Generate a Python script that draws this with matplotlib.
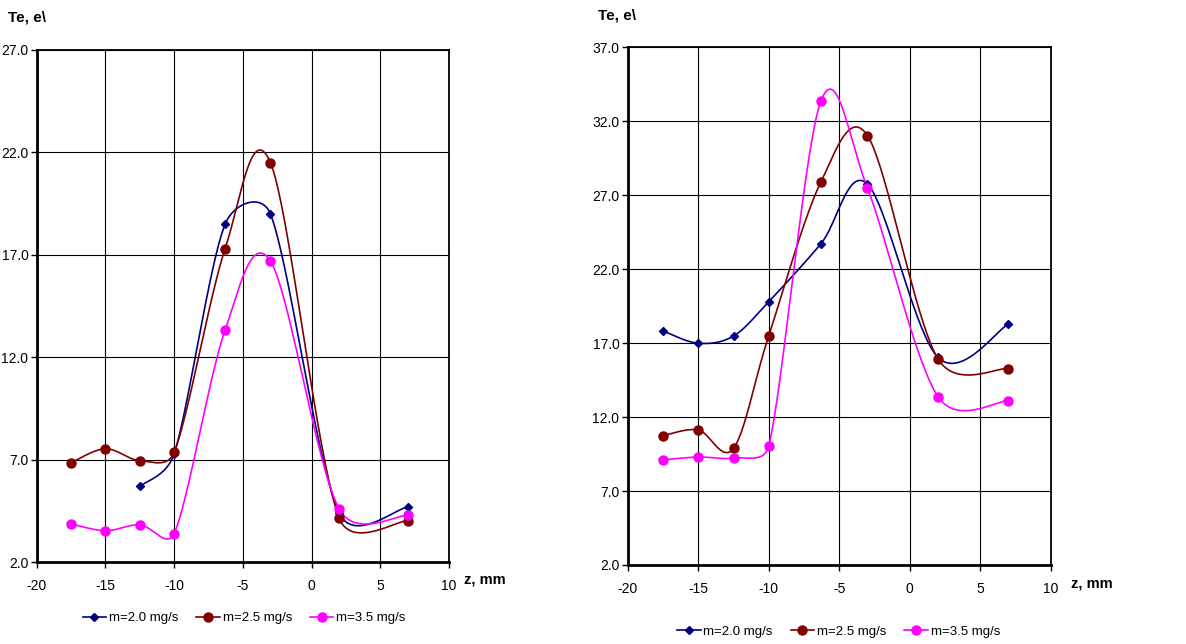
import numpy as np
import matplotlib
matplotlib.use("Agg")
import matplotlib.pyplot as plt
from matplotlib.lines import Line2D

plt.rcParams["font.family"] = ["Liberation Sans", "DejaVu Sans"]
plt.rcParams["axes.unicode_minus"] = False

# probe positions, mm
z = [-17.5, -15.0, -12.5, -10.0, -6.3, -3.0, 2.0, 7.0]

# left chart: Te, eV
te_a_20 = [None, None, 5.7, 7.3, 18.5, 19.0, 4.4, 4.7]
te_a_25 = [6.86, 7.54, 6.96, 7.37, 17.3, 21.5, 4.16, 4.03]
te_a_35 = [3.87, 3.54, 3.83, 3.4, 13.33, 16.7, 4.6, 4.29]

# right chart: Te, eV
te_b_20 = [17.82, 16.99, 17.48, 19.8, 23.72, 27.75, 16.04, 18.29]
te_b_25 = [10.74, 11.13, 9.89, 17.5, 27.9, 31.03, 15.93, 15.28]
te_b_35 = [9.1, 9.3, 9.23, 10.05, 33.37, 27.47, 13.38, 13.11]

labels = ["m=2.0 mg/s", "m=2.5 mg/s", "m=3.5 mg/s"]
colors = ["#000080", "#800000", "#FF00FF"]
markers = ["D", "o", "o"]
msizes = [4.5, 6.5, 6.5]


def smooth(ax, x, y, n=40):
    # bezier through the points, control arms capped at half a segment
    p = ax.transData.transform(np.column_stack([x, y]))
    ext = np.vstack([p[0], p, p[-1]])
    out = []
    t = np.linspace(0, 1, n)[:, None]
    for i in range(len(p) - 1):
        p0, p1, p2, p3 = ext[i], ext[i + 1], ext[i + 2], ext[i + 3]
        d12 = np.hypot(*(p2 - p1))
        d02 = np.hypot(*(p2 - p0))
        d13 = np.hypot(*(p3 - p1))
        f1 = 1 / 6 if d02 / 6 < d12 / 2 else d12 / 2 / d02
        f2 = 1 / 6 if d13 / 6 < d12 / 2 else d12 / 2 / d13
        c1 = p1 + (p2 - p0) * f1
        c2 = p2 - (p3 - p1) * f2
        seg = ((1 - t) ** 3) * p1 + 3 * ((1 - t) ** 2) * t * c1 \
            + 3 * (1 - t) * t ** 2 * c2 + t ** 3 * p2
        out.append(seg if i == 0 else seg[1:])
    out = ax.transData.inverted().transform(np.vstack(out))
    return out[:, 0], out[:, 1]


def draw(ax, series, ymax):
    ax.set_xlim(-20, 10)
    ax.set_ylim(2, ymax)
    for vals, c, m, ms in zip(series, colors, markers, msizes):
        xs = [a for a, b in zip(z, vals) if b is not None]
        ys = [b for b in vals if b is not None]
        sx, sy = smooth(ax, xs, ys)
        ax.plot(sx, sy, color=c, lw=1.2, zorder=3)
        ax.plot(xs, ys, ls="none", marker=m, ms=ms, color=c, zorder=4)
    ax.set_xticks(np.arange(-20, 11, 5))
    ax.set_yticks(np.arange(2, ymax + 0.1, 5))
    ax.set_yticklabels(["%.1f" % v for v in np.arange(2, ymax + 0.1, 5)])
    ax.grid(True, color="black", lw=0.8)
    ax.set_axisbelow(True)
    ax.tick_params(labelsize=10, direction="out", length=4, width=1,
                   color="black", pad=2)
    ax.tick_params(axis="x", pad=8)
    for s in ["left", "bottom"]:
        ax.spines[s].set_linewidth(2)
    for s in ["top", "right"]:
        ax.spines[s].set_linewidth(1.3)


fig = plt.figure(figsize=(11.86, 6.44), dpi=100)
ax1 = fig.add_axes([0.031, 0.1269, 0.3477, 0.7955])
ax2 = fig.add_axes([0.5293, 0.1227, 0.3567, 0.8039])

draw(ax1, [te_a_20, te_a_25, te_a_35], 27)
draw(ax2, [te_b_20, te_b_25, te_b_35], 37)

fig.text(8 / 1186, 1 - 17 / 644, "Te, e\\", fontsize=11, fontweight="bold",
         va="center", ha="left")
fig.text(598 / 1186, 1 - 15 / 644, "Te, e\\", fontsize=11, fontweight="bold",
         va="center", ha="left")
fig.text(464 / 1186, 1 - 579 / 644, "z, mm", fontsize=10.5, fontweight="bold",
         va="center", ha="left")
fig.text(1071 / 1186, 1 - 584 / 644, "z, mm", fontsize=10.5, fontweight="bold",
         va="center", ha="left")

handles = [Line2D([], [], color=c, lw=1.2, marker=m, ms=ms)
           for c, m, ms in zip(colors, markers, msizes)]
for cx, cy in [(244 / 1186, 1 - 618 / 644), (838.5 / 1186, 1 - 631.7 / 644)]:
    fig.legend(handles, labels, loc="center", bbox_to_anchor=(cx, cy), ncol=3,
               frameon=False, fontsize=9.5, handlelength=1.8,
               handletextpad=0.2, columnspacing=1.35, borderpad=0)

fig.savefig("out.png", dpi=100)
